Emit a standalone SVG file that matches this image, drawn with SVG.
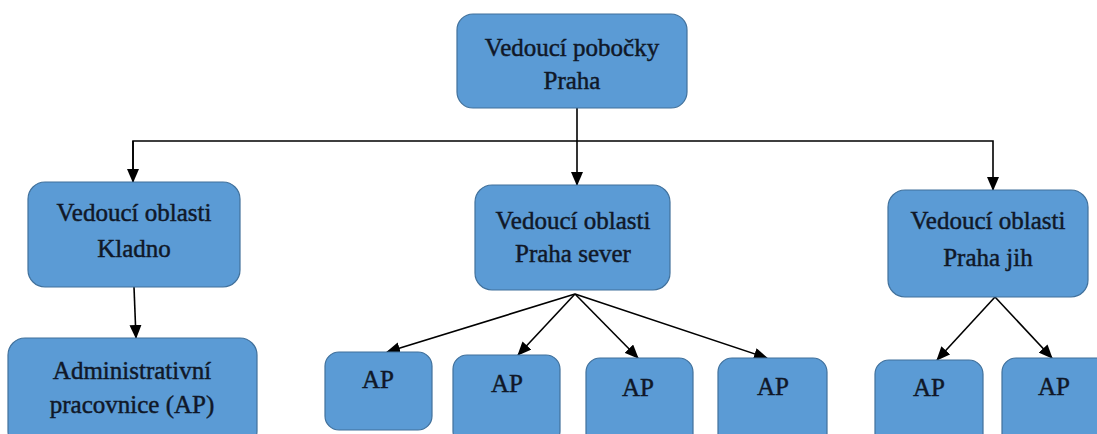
<svg xmlns="http://www.w3.org/2000/svg" width="1097" height="434" viewBox="0 0 1097 434">
<defs>
<marker id="arr" markerWidth="14" markerHeight="12" refX="13" refY="6" orient="auto" markerUnits="userSpaceOnUse">
<path d="M0,0 L14,6 L0,12 z" fill="#000"/>
</marker>
<style>
.box{fill:#5b9bd5;stroke:#41719c;stroke-width:1.2}
.t{font-family:"Liberation Serif","Times New Roman",serif;font-size:25px;fill:#101828;text-anchor:middle;stroke:#101828;stroke-width:0.45}
.c{fill:none;stroke:#000;stroke-width:1.6}
</style>
</defs>
<rect width="1097" height="434" fill="#fff"/>
<g id="connectors">
<path class="c" d="M577,108 V185" marker-end="url(#arr)"/>
<path class="c" d="M133,182 V141 H993 V190" marker-end="url(#arr)"/>
<path class="c" d="M133,141 V182" marker-end="url(#arr)"/>
<path class="c" d="M134,287 L136,338" marker-end="url(#arr)"/>
<path class="c" d="M575,294 L387,352" marker-end="url(#arr)"/>
<path class="c" d="M575,294 L518,355" marker-end="url(#arr)"/>
<path class="c" d="M575,294 L638,358" marker-end="url(#arr)"/>
<path class="c" d="M575,294 L767,358" marker-end="url(#arr)"/>
<path class="c" d="M995,297 L937,360" marker-end="url(#arr)"/>
<path class="c" d="M995,297 L1052,358" marker-end="url(#arr)"/>
</g>
<g id="n-praha">
<rect class="box" x="457" y="14" width="230" height="94" rx="16"/>
<text class="t" x="572" y="56">Vedoucí pobočky</text>
<text class="t" x="572" y="89">Praha</text>
</g>
<g id="n-kladno">
<rect class="box" x="28" y="182" width="212" height="105" rx="17"/>
<text class="t" x="134" y="221">Vedoucí oblasti</text>
<text class="t" x="134" y="257">Kladno</text>
</g>
<g id="n-admin">
<rect class="box" x="8" y="338" width="249" height="110" rx="17"/>
<text class="t" x="132" y="379">Administrativní</text>
<text class="t" x="132" y="413">pracovnice (AP)</text>
</g>
<g id="n-sever">
<rect class="box" x="475" y="185" width="195" height="105" rx="17"/>
<text class="t" x="573" y="229">Vedoucí oblasti</text>
<text class="t" x="573" y="262">Praha sever</text>
</g>
<g id="n-jih">
<rect class="box" x="888" y="190" width="200" height="107" rx="17"/>
<text class="t" x="988" y="229">Vedoucí oblasti</text>
<text class="t" x="988" y="266">Praha jih</text>
</g>
<g id="n-ap1">
<rect class="box" x="325" y="352" width="107" height="78" rx="14"/>
<text class="t" x="378" y="388">AP</text>
</g>
<g id="n-ap2">
<rect class="box" x="453" y="355" width="107" height="90" rx="14"/>
<text class="t" x="507" y="392">AP</text>
</g>
<g id="n-ap3">
<rect class="box" x="586" y="358" width="107" height="90" rx="14"/>
<text class="t" x="638" y="396">AP</text>
</g>
<g id="n-ap4">
<rect class="box" x="718" y="358" width="109" height="90" rx="14"/>
<text class="t" x="773" y="395">AP</text>
</g>
<g id="n-ap5">
<rect class="box" x="875" y="360" width="108" height="90" rx="14"/>
<text class="t" x="929" y="396">AP</text>
</g>
<g id="n-ap6">
<rect class="box" x="1002" y="358" width="110" height="90" rx="14"/>
<text class="t" x="1054" y="395">AP</text>
</g>
</svg>
